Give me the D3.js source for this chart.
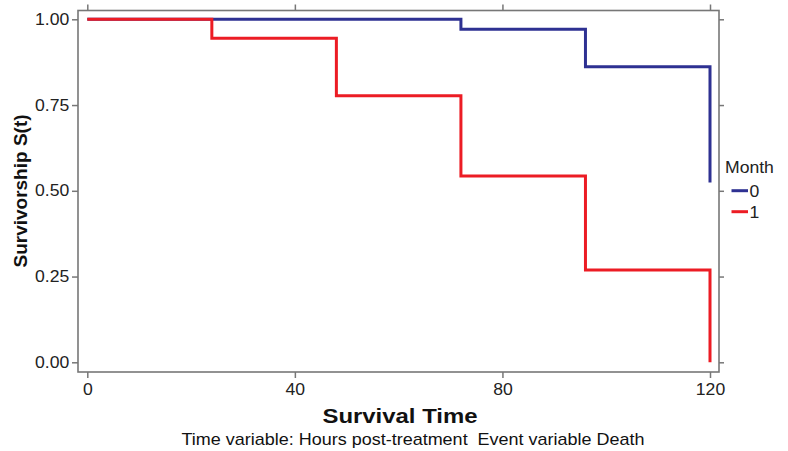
<!DOCTYPE html>
<html>
<head>
<meta charset="utf-8">
<script src="https://cdn.jsdelivr.net/npm/d3@7"></script>
<style>
  body { margin: 0; background: #fff; }
  svg { font-family: "Liberation Sans", Arial, sans-serif; }
</style>
</head>
<body>
<div class="vis-km"></div>
<script>
// Kaplan-Meier estimates
var month0Time = [0, 72, 96, 120];
var month0Surv = [1.0, 0.971, 0.862, 0.524];
var month1Time = [0, 24, 48, 72, 96, 120];
var month1Surv = [1.0, 0.945, 0.777, 0.543, 0.269, 0.0];
var groups = ["0", "1"];
var groupColors = ["#2e3192", "#ec1c24"];
var xTicks = [0, 40, 80, 120];
var yTicks = [0, 0.25, 0.5, 0.75, 1];

var width = 788, height = 451;
var frame = {left: 78, right: 719, top: 10.5, bottom: 372};
// the original picture is a bit wider than tall, so text is stretched sideways
var stretch = 1.1;

var svg = d3.select(".vis-km")
  .append("svg")
    .attr("width", width)
    .attr("height", height);

var x = d3.scaleLinear().domain([0, 120]).range([87.3, 710]);
var y = d3.scaleLinear().domain([0, 1]).range([362.3, 19.3]);

var axisColor = "#777";

function styleAxis(g, showText) {
  g.select(".domain").remove();
  g.selectAll(".tick line").attr("stroke", axisColor).attr("stroke-width", 1.5);
  g.selectAll(".tick text")
    .attr("fill", "#222")
    .attr("transform", "scale(" + stretch + ",1)")
    .style("font-size", "16px")
    .style("display", showText ? null : "none");
}

// frame lines
svg.append("rect")
  .attr("x", frame.left).attr("y", frame.top)
  .attr("width", frame.right - frame.left)
  .attr("height", frame.bottom - frame.top)
  .attr("fill", "none")
  .attr("stroke", axisColor)
  .attr("stroke-width", 1.6);

// bottom axis
svg.append("g")
  .attr("transform", "translate(0," + frame.bottom + ")")
  .call(d3.axisBottom(x).tickValues(xTicks).tickSize(6).tickPadding(6).tickFormat(d3.format("d")))
  .call(function(g) { styleAxis(g, true); });

// top axis (ticks only)
svg.append("g")
  .attr("transform", "translate(0," + frame.top + ")")
  .call(d3.axisTop(x).tickValues(xTicks).tickSize(6))
  .call(function(g) { styleAxis(g, false); });

// left axis
svg.append("g")
  .attr("transform", "translate(" + frame.left + ",0)")
  .call(d3.axisLeft(y).tickValues(yTicks).tickSize(6).tickPadding(2).tickFormat(d3.format(".2f")))
  .call(function(g) { styleAxis(g, true); });

// right axis (ticks only)
svg.append("g")
  .attr("transform", "translate(" + frame.right + ",0)")
  .call(d3.axisRight(y).tickValues(yTicks).tickSize(5))
  .call(function(g) { styleAxis(g, false); });

// survival curves
var line = d3.line()
  .x(function(d) { return x(d[0]); })
  .y(function(d) { return y(d[1]); })
  .curve(d3.curveStepAfter);

var series = [
  d3.zip(month0Time, month0Surv),
  d3.zip(month1Time, month1Surv)
];

svg.append("g")
  .selectAll("path")
  .data(series)
  .enter()
  .append("path")
    .attr("d", line)
    .attr("fill", "none")
    .attr("stroke", function(d, i) { return groupColors[i]; })
    .attr("stroke-width", 3);

// legend
var legend = svg.append("g").attr("transform", "translate(725,0)");
legend.append("text")
  .attr("transform", "translate(0,173) scale(" + stretch + ",1)")
  .style("font-size", "16px")
  .attr("fill", "#222")
  .text("Month");
var items = legend.selectAll(".item")
  .data(groups)
  .enter()
  .append("g")
    .attr("transform", function(d, i) { return "translate(0," + (190.7 + i * 21) + ")"; });
items.append("line")
  .attr("x1", 6.5).attr("x2", 23)
  .attr("stroke", function(d, i) { return groupColors[i]; })
  .attr("stroke-width", 3);
items.append("text")
  .attr("transform", "translate(24.5,6) scale(" + stretch + ",1)")
  .style("font-size", "16px")
  .attr("fill", "#222")
  .text(function(d) { return d; });

// axis titles
svg.append("text")
  .attr("transform", "translate(400,423) scale(1.14,1)")
  .attr("text-anchor", "middle")
  .style("font-size", "21px")
  .style("font-weight", "bold")
  .attr("fill", "#111")
  .text("Survival Time");

svg.append("text")
  .attr("transform", "translate(27,191) rotate(-90)")
  .attr("text-anchor", "middle")
  .style("font-size", "19px")
  .style("font-weight", "bold")
  .attr("fill", "#111")
  .text("Survivorship S(t)");

svg.append("text")
  .attr("transform", "translate(413,445) scale(1.125,1)")
  .attr("text-anchor", "middle")
  .style("font-size", "16px")
  .attr("fill", "#111")
  .style("white-space", "pre")
  .text("Time variable: Hours post-treatment  Event variable Death");
</script>
</body>
</html>
